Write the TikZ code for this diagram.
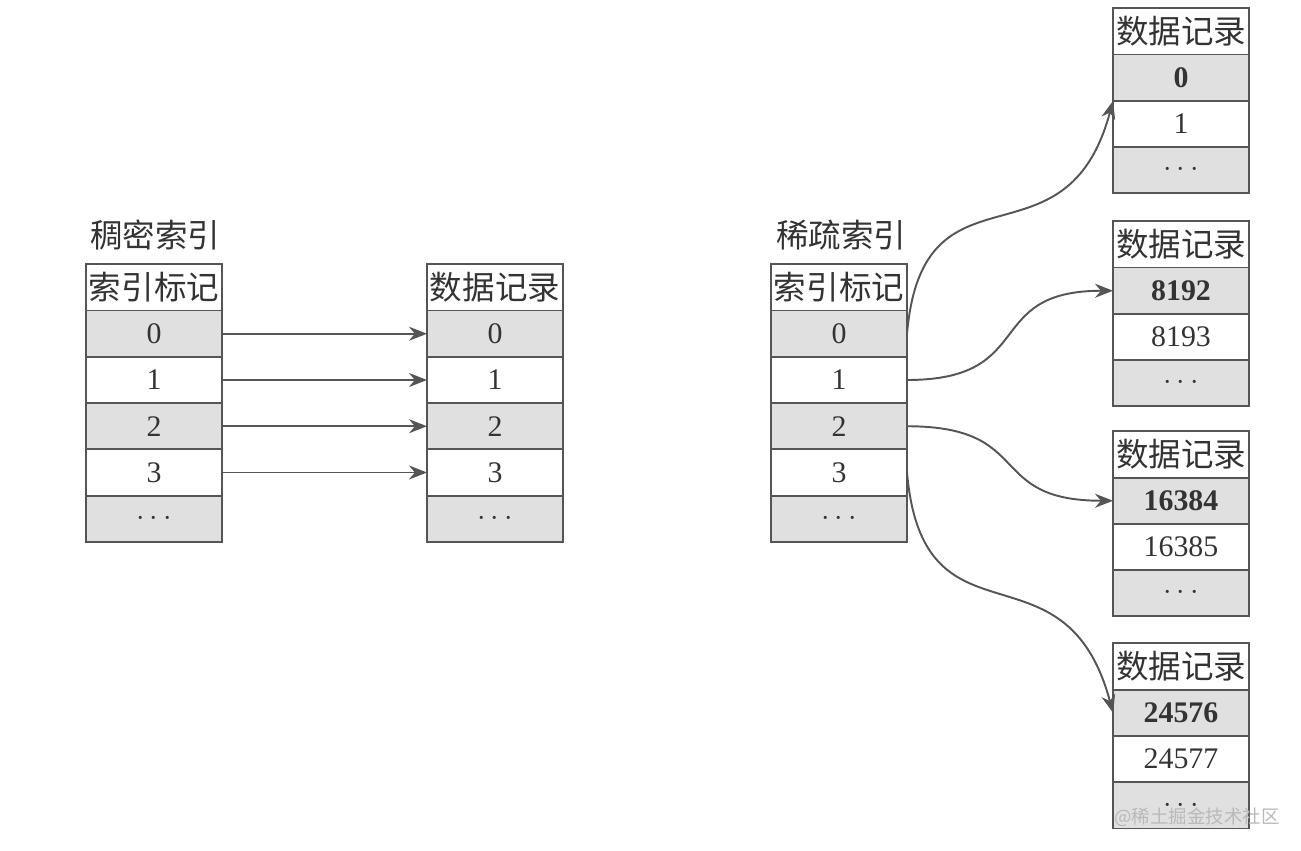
\documentclass[tikz,border=0pt]{standalone}
\usepackage{fontspec}
\setmainfont{Liberation Serif}
\newfontfamily\cjk{Noto Sans CJK SC}
\usetikzlibrary{positioning,arrows.meta}
\definecolor{linegray}{HTML}{555555}
\definecolor{cellgray}{HTML}{E0E0E0}
\definecolor{textgray}{HTML}{333333}
\tikzset{
  cell/.style={draw=linegray, line width=1pt, minimum width=2.72cm, minimum height=0.925cm,
    inner sep=0pt, outer sep=0pt, text=textgray, font=\fontsize{17}{20}\selectfont},
  gcell/.style={cell, fill=cellgray},
  bcell/.style={gcell, font=\fontsize{17}{20}\selectfont\bfseries},
  hcell/.style={cell, font=\cjk\fontsize{18.5}{20}\selectfont},
  title/.style={anchor=west, inner sep=0pt, text=textgray, font=\cjk\fontsize{18.5}{20}\selectfont},
  arr/.style={-{Stealth[length=3.6mm, width=2.8mm]}, draw=linegray, line width=1.1pt},
}

\begin{document}
\begin{tikzpicture}
  \useasboundingbox (0,0) rectangle (26.02,17);

  % dense index
  \node[title] (dt) at (1.80,12.3) {稠密索引};
  \node[hcell] (dih) at (3.08,11.25) {索引标记};
  \node[gcell, below=0pt of dih] (di0) {0};
  \node[cell, below=0pt of di0] (di1) {1};
  \node[gcell, below=0pt of di1] (di2) {2};
  \node[cell, below=0pt of di2] (di3) {3};
  \node[gcell, below=0pt of di3] (di4) {$\cdots$};

  \node[hcell] (drh) at (9.90,11.25) {数据记录};
  \node[gcell, below=0pt of drh] (dr0) {0};
  \node[cell, below=0pt of dr0] (dr1) {1};
  \node[gcell, below=0pt of dr1] (dr2) {2};
  \node[cell, below=0pt of dr2] (dr3) {3};
  \node[gcell, below=0pt of dr3] (dr4) {$\cdots$};

  \draw[arr] (di0) -- (dr0);
  \draw[arr] (di1) -- (dr1);
  \draw[arr] (di2) -- (dr2);
  \draw[arr] (di3) -- (dr3);

  % sparse index
  \node[title] (st) at (15.52,12.3) {稀疏索引};
  \node[hcell] (sih) at (16.78,11.25) {索引标记};
  \node[gcell, below=0pt of sih] (si0) {0};
  \node[cell, below=0pt of si0] (si1) {1};
  \node[gcell, below=0pt of si1] (si2) {2};
  \node[cell, below=0pt of si2] (si3) {3};
  \node[gcell, below=0pt of si3] (si4) {$\cdots$};

  \node[hcell] (r1h) at (23.62,16.37) {数据记录};
  \node[bcell, below=0pt of r1h] (r1a) {0};
  \node[cell, below=0pt of r1a] (r1b) {1};
  \node[gcell, below=0pt of r1b] (r1c) {$\cdots$};

  \node[hcell] (r2h) at (23.62,12.11) {数据记录};
  \node[bcell, below=0pt of r2h] (r2a) {8192};
  \node[cell, below=0pt of r2a] (r2b) {8193};
  \node[gcell, below=0pt of r2b] (r2c) {$\cdots$};

  \node[hcell] (r3h) at (23.62,7.91) {数据记录};
  \node[bcell, below=0pt of r3h] (r3a) {16384};
  \node[cell, below=0pt of r3a] (r3b) {16385};
  \node[gcell, below=0pt of r3b] (r3c) {$\cdots$};

  \node[hcell] (r4h) at (23.62,3.67) {数据记录};
  \node[bcell, below=0pt of r4h] (r4a) {24576};
  \node[cell, below=0pt of r4a] (r4b) {24577};
  \node[gcell, below=0pt of r4b] (r4c) {$\cdots$};

  \draw[arr] (si0.east) to[out=85, in=255, looseness=1.5] (r1a.south west);
  \draw[arr] (si1.east) to[out=0, in=180, looseness=1.5] (r2a.west);
  \draw[arr] (si2.east) to[out=0, in=180, looseness=1.5] (r3a.west);
  \draw[arr] (si3.east) to[out=-85, in=105, looseness=1.5] (r4a.west);

  \node[text=gray!55, font=\cjk\fontsize{10.5}{12}\selectfont] (wm) at (23.94,0.66) {@稀土掘金技术社区};
\end{tikzpicture}
\end{document}
